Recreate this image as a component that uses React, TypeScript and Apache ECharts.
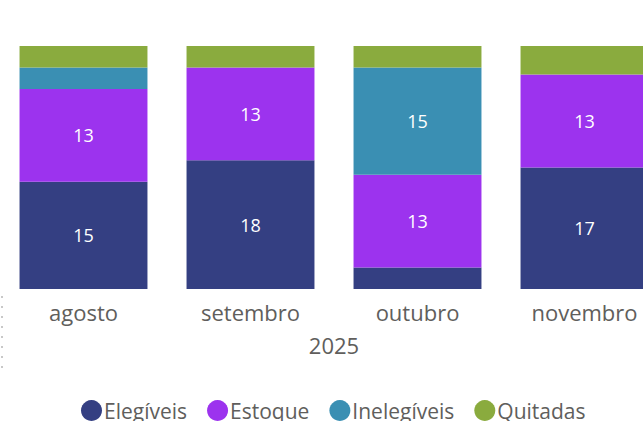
import React, { useEffect, useRef } from "react";
import * as echarts from "echarts";

const categories = ["agosto", "setembro", "outubro", "novembro"];
const seriesNames = ["Elegíveis", "Estoque", "Inelegíveis", "Quitadas"];
const elegiveis = [15, 18, 3, 17];
const estoque = [13, 13, 13, 13];
const inelegiveis = [3, 0, 15, 0];
const quitadas = [3, 3, 3, 4];
const colors = ["#343F82", "#9C33EE", "#3A8FB3", "#8AAB3E"];
const axisTitle = "2025";

const FONT = "'Open Sans', 'Noto Sans', sans-serif";

export default function App() {
  const ref = useRef<HTMLDivElement>(null);
  useEffect(() => {
    if (!ref.current) return;
    const chart = echarts.init(ref.current, undefined, { renderer: "svg" });
    const values = [elegiveis, estoque, inelegiveis, quitadas];
    chart.setOption({
      animation: false,
      textStyle: { fontFamily: FONT },
      color: colors,
      grid: { left: 0, right: 0, top: 46, bottom: 132, containLabel: false },
      legend: {
        data: seriesNames,
        left: 76,
        top: 395,
        icon: "circle",
        itemWidth: 21,
        itemHeight: 21,
        itemGap: 20,
        textStyle: { fontSize: 21, color: "#605E5C", fontFamily: FONT, padding: [0, 0, 0, -3] },
      },
      xAxis: {
        type: "category",
        data: categories,
        axisLine: { show: false },
        axisTick: { show: false },
        axisLabel: { fontSize: 22, color: "#605E5C", margin: 12, fontFamily: FONT },
        name: axisTitle,
        nameLocation: "middle",
        nameGap: 45,
        nameTextStyle: { fontSize: 22, color: "#605E5C", fontFamily: FONT },
      },
      yAxis: { type: "value", min: 0, max: 34, show: false },
      series: seriesNames.map((name, i) => ({
        name,
        type: "bar",
        stack: "total",
        barCategoryGap: "23.4%",
        data: values[i],
        itemStyle: { color: colors[i] },
        label: {
          show: true,
          position: "inside",
          color: "#FFFFFF",
          fontSize: 18,
          fontFamily: FONT,
          formatter: (p: any) => (p.value >= 5 ? String(p.value) : ""),
        },
      })),
      graphic: [
        {
          type: "line",
          shape: { x1: 2, y1: 296, x2: 2, y2: 370 },
          style: { stroke: "#C8C8C8", lineWidth: 2, lineDash: [2, 8] },
        },
      ],
    });
    return () => chart.dispose();
  }, []);
  return (
    <div style={{ width: 643, height: 421, position: "absolute", left: 0, top: 0, overflow: "hidden" }}>
      <div ref={ref} style={{ width: 668, height: 421 }} />
    </div>
  );
}
